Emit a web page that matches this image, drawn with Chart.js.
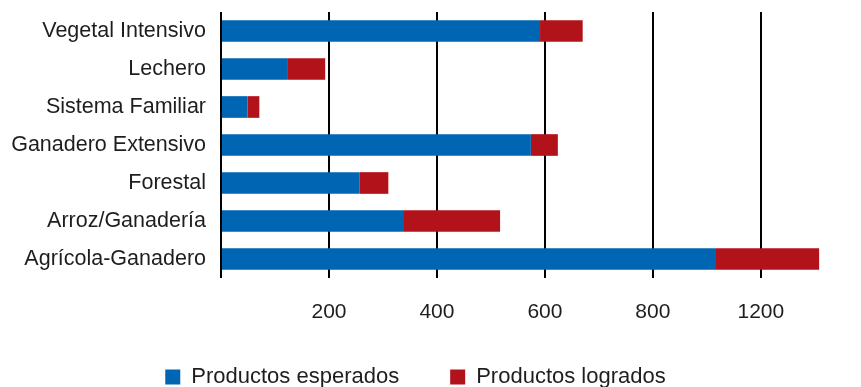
<!DOCTYPE html>
<html>
<head>
<meta charset="utf-8">
<script src="https://cdn.jsdelivr.net/npm/chart.js@4"></script>
<style>
  html, body { margin: 0; padding: 0; background: #fff; }
  #wrap { width: 861px; height: 387px; }
</style>
</head>
<body>
<div id="wrap"><canvas id="c" width="861" height="387"></canvas></div>
<script>
const categories = ["Vegetal Intensivo", "Lechero", "Sistema Familiar", "Ganadero Extensivo", "Forestal", "Arroz/Ganadería", "Agrícola-Ganadero"];
const esperados = [591, 124, 49, 574, 257, 339, 917];
const logrados = [79, 69, 22, 50, 53, 178, 191];
const tickValues = [0, 200, 400, 600, 800, 1000];
const tickLabels = ["", "200", "400", "600", "800", "1200"];
const seriesNames = ["Productos esperados", "Productos logrados"];

const FONT = '"Liberation Sans", Arial, Helvetica, sans-serif';
const TEXT = '#1e1e1e';

const legendShift = {
  id: 'legendShift',
  afterLayout(chart) {
    const lg = chart.legend;
    if (lg) { lg.top -= 13; lg.bottom -= 13; }
  }
};

new Chart(document.getElementById('c'), {
  type: 'bar',
  data: {
    labels: categories,
    datasets: [
      { label: seriesNames[0], data: esperados, backgroundColor: '#0066b3', borderWidth: 0 },
      { label: seriesNames[1], data: logrados, backgroundColor: '#b2121a', borderWidth: 0 }
    ]
  },
  plugins: [legendShift],
  options: {
    indexAxis: 'y',
    responsive: false,
    animation: false,
    devicePixelRatio: 1,
    categoryPercentage: 1,
    barPercentage: 0.57,
    layout: { padding: { top: 12, left: 0, right: 30, bottom: -24 } },
    plugins: {
      tooltip: { enabled: false },
      legend: {
        position: 'bottom',
        labels: {
          boxWidth: 15, boxHeight: 15, padding: 51,
          color: TEXT,
          font: { family: FONT, size: 22 }
        }
      }
    },
    scales: {
      x: {
        stacked: true,
        min: 0, max: 1130,
        afterBuildTicks: s => { s.ticks = tickValues.map(v => ({ value: v })); },
        afterFit: s => { s.height = 50; },
        border: { display: false },
        grid: { color: '#000', lineWidth: 2, drawTicks: false },
        ticks: {
          padding: 22,
          color: TEXT,
          font: { family: FONT, size: 21 },
          maxRotation: 0,
          callback: (v, i) => tickLabels[i]
        }
      },
      y: {
        stacked: true,
        afterFit: s => { s.width = 221; s.paddingTop = 0; s.paddingBottom = 0; },
        border: { display: false },
        grid: { display: false, drawTicks: false },
        ticks: {
          padding: 15,
          color: TEXT,
          font: { family: FONT, size: 21.5 }
        }
      }
    }
  }
});
</script>
</body>
</html>
